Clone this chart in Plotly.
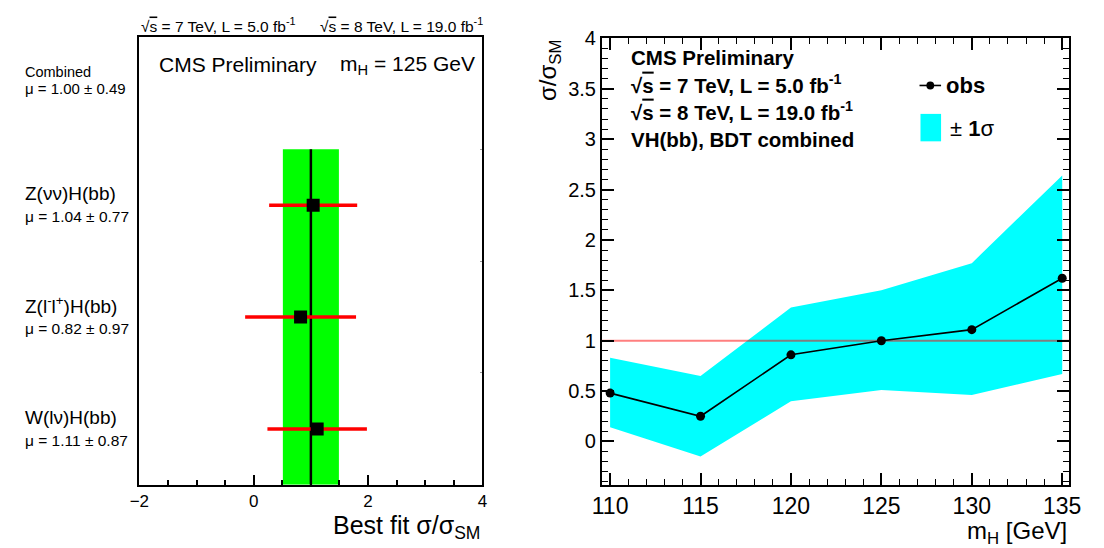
import plotly.graph_objects as go

# ---- left panel: best-fit signal strength per channel at mH = 125 GeV
channels = ["Z(νν)H(bb)", "Z(l<sup>-</sup>l<sup>+</sup>)H(bb)", "W(lν)H(bb)"]
mu_values = [1.04, 0.82, 1.11]
mu_errors = [0.77, 0.97, 0.87]
combined_mu = 1.00
combined_err = 0.49

# ---- right panel: observed signal strength versus Higgs mass
mass_points = [110, 115, 120, 125, 130, 135]
obs_mu = [0.48, 0.25, 0.86, 1.00, 1.11, 1.62]
band_lo = [0.14, -0.15, 0.40, 0.51, 0.46, 0.67]
band_hi = [0.83, 0.65, 1.33, 1.50, 1.77, 2.64]

W, H = 1104, 548
FONT = "Liberation Sans, Arial, Helvetica, sans-serif"


def px(x):
    return x / W


def py(y):
    return 1 - y / H


n_rows = len(channels) + 1
rows = [len(channels) - 0.5 - i for i in range(len(channels))]
combined_row = n_rows - 0.5

x2_range = [109.55, 135.4]
y2_range = [-0.43, 4.0]

fig = go.Figure()

# combined result: +-1 sigma band and central value
lo_c, hi_c = combined_mu - combined_err, combined_mu + combined_err
fig.add_trace(go.Scatter(
    x=[lo_c, hi_c, hi_c, lo_c, lo_c], y=[0, 0, len(channels), len(channels), 0],
    fill="toself", fillcolor="#00ff00", line=dict(width=0), mode="lines",
    hoverinfo="skip", xaxis="x", yaxis="y"))
fig.add_trace(go.Scatter(
    x=[combined_mu, combined_mu], y=[0, len(channels)], mode="lines",
    line=dict(color="black", width=2.5), xaxis="x", yaxis="y"))

# per-channel best fits with their uncertainties
fig.add_trace(go.Scatter(
    x=mu_values, y=rows, mode="markers",
    marker=dict(symbol="square", size=13, color="black"),
    error_x=dict(type="data", array=mu_errors, color="#ff0000", thickness=3.5, width=0),
    xaxis="x", yaxis="y"))

# right panel: +-1 sigma band
fig.add_trace(go.Scatter(
    x=mass_points, y=band_lo, mode="lines", line=dict(width=0, color="#00ffff"),
    hoverinfo="skip", xaxis="x2", yaxis="y2"))
fig.add_trace(go.Scatter(
    x=mass_points, y=band_hi, mode="lines", line=dict(width=0, color="#00ffff"),
    fill="tonexty", fillcolor="#00ffff", xaxis="x2", yaxis="y2"))
# SM expectation
fig.add_trace(go.Scatter(
    x=x2_range, y=[1, 1], mode="lines",
    line=dict(color="rgba(255,0,0,0.5)", width=2), xaxis="x2", yaxis="y2"))
# observed
fig.add_trace(go.Scatter(
    x=mass_points, y=obs_mu, mode="lines+markers",
    line=dict(color="black", width=1.6),
    marker=dict(symbol="circle", size=9, color="black"),
    xaxis="x2", yaxis="y2"))

axis_common = dict(showgrid=False, zeroline=False, showline=True,
                   linecolor="black", linewidth=2, tickcolor="black")

left_dom_x = [px(132), px(482)]
left_dom_y = [py(483.5), py(27)]

fig.update_layout(
    width=W, height=H, margin=dict(l=0, r=0, t=0, b=0),
    paper_bgcolor="white", plot_bgcolor="white", showlegend=False,
    font=dict(family=FONT, color="black"),
    xaxis=dict(domain=left_dom_x, anchor="y", range=[-2, 4],
               tick0=-2, dtick=2, ticks="inside", ticklen=10, tickwidth=1.5,
               mirror=True, tickfont=dict(size=17, family=FONT),
               minor=dict(dtick=0.5, tick0=-2, ticks="inside", ticklen=5,
                          tickcolor="black", tickwidth=1.5),
               **axis_common),
    yaxis=dict(domain=left_dom_y, anchor="x", range=[0, n_rows],
               showticklabels=False, ticks="", mirror=True, **axis_common),
    # faint row separators on the right edge of the left frame
    yaxis3=dict(domain=left_dom_y, overlaying="y", anchor="x", side="right",
                range=[0, n_rows], tickvals=list(range(1, n_rows)),
                ticks="inside", ticklen=2, tickwidth=1, tickcolor="#999999",
                showticklabels=False, showline=False, showgrid=False,
                zeroline=False),
    xaxis2=dict(domain=[px(604), px(1081)], anchor="y2", range=x2_range,
                tick0=110, dtick=5, ticks="inside", ticklen=12, tickwidth=1.5,
                mirror="allticks", tickfont=dict(size=23, family=FONT),
                minor=dict(dtick=1, tick0=110, ticks="inside", ticklen=6,
                           tickcolor="black", tickwidth=1.2),
                **axis_common),
    yaxis2=dict(domain=[py(483.5), py(28)], anchor="x2", range=y2_range,
                tick0=0, dtick=0.5, ticks="inside", ticklen=12, tickwidth=1.5,
                mirror="allticks", tickfont=dict(size=20, family=FONT),
                minor=dict(dtick=0.1, tick0=0, ticks="inside", ticklen=6,
                           tickcolor="black", tickwidth=1.2),
                **axis_common),
)

# invisible trace so the right-side separator axis is drawn
fig.add_trace(go.Scatter(x=[None], y=[None], xaxis="x", yaxis="y3",
                         mode="markers", hoverinfo="skip"))

ann = []


def text(x, y, s, size, xanchor="left", yanchor="middle", xref="paper", yref="paper", angle=0):
    ann.append(dict(x=x, y=y, xref=xref, yref=yref, text=s, showarrow=False,
                    xanchor=xanchor, yanchor=yanchor, textangle=angle,
                    font=dict(size=size, family=FONT, color="black")))


sqrt_s = "√<span style='text-decoration:overline'>s</span>"

# left panel
text(px(132), py(14), sqrt_s + " = 7 TeV, L = 5.0 fb<sup>-1</sup>", 15.5)
text(px(314), py(14), sqrt_s + " = 8 TeV, L = 19.0 fb<sup>-1</sup>", 15.5)
text(px(150), py(55), "CMS Preliminary", 21)
text(px(335), py(55), "m<sub>H</sub> = 125 GeV", 21)
text(px(13), combined_row + 0.19, "Combined", 14.5, yref="y")
text(px(13), combined_row + 0.045,
     f"μ = {combined_mu:.2f} ± {combined_err:.2f}", 15, yref="y")
for name, r, m, e in zip(channels, rows, mu_values, mu_errors):
    text(px(13), r + 0.105, name, 19, yref="y")
    text(px(13), r - 0.105, f"μ = {m:.2f} ± {e:.2f}", 15.5, yref="y")
text(px(482), py(527), "Best fit σ/σ<sub>SM</sub>", 25, xanchor="right")

# right panel
text(px(632), py(47), "<b>CMS Preliminary</b>", 20.5)
text(px(632), py(75), "<b>" + sqrt_s + " = 7 TeV, L = 5.0 fb<sup>-1</sup></b>", 20.5)
text(px(632), py(102), "<b>" + sqrt_s + " = 8 TeV, L = 19.0 fb<sup>-1</sup></b>", 20.5)
text(px(632), py(131), "<b>VH(bb), BDT combined</b>", 20.5)
text(px(953), py(76), "<b>obs</b>", 22)
text(px(957), py(120), "± <b>1</b>σ", 22)
text(px(551), py(28), "σ/σ<sub>SM</sub>", 24, xanchor="center", yanchor="top", angle=-90)
text(px(1081), py(532), "m<sub>H</sub> [GeV]", 24, xanchor="right")

fig.update_layout(annotations=ann)

# legend keys
fig.add_shape(type="line", xref="paper", yref="paper",
              x0=px(928), x1=px(950), y0=py(76), y1=py(76),
              line=dict(color="black", width=1.6))
fig.add_shape(type="circle", xref="paper", yref="paper",
              x0=px(935), x1=px(943), y0=py(80), y1=py(72),
              fillcolor="black", line=dict(color="black", width=0))
fig.add_shape(type="rect", xref="paper", yref="paper",
              x0=px(929), x1=px(950), y0=py(133), y1=py(105),
              fillcolor="#00ffff", line=dict(width=0))

fig.write_html("out.html")
